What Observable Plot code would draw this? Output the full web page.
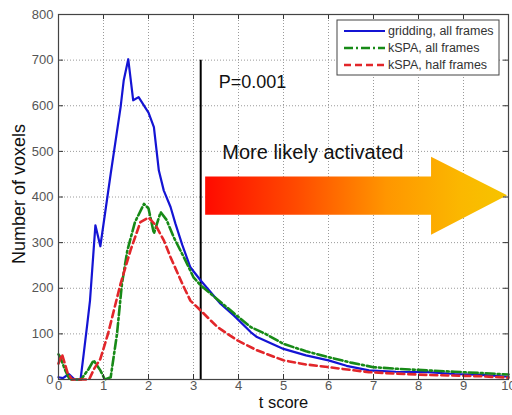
<!DOCTYPE html>
<html>
<head>
<meta charset="utf-8">
<script src="https://cdn.jsdelivr.net/npm/d3@7"></script>
<script src="https://cdn.jsdelivr.net/npm/@observablehq/plot@0.6"></script>
<style>
  html, body { margin: 0; padding: 0; background: #fff; }
  #chart svg { display: block; }
</style>
</head>
<body>
<div id="chart"></div>
<script>
// ---- tick labels ----
const xTicks = [0, 1, 2, 3, 4, 5, 6, 7, 8, 9, 10];
const yTicks = [0, 100, 200, 300, 400, 500, 600, 700, 800];

// ---- series: gridding, all frames ----
const tGrid   = [0, 0.1, 0.23, 0.36, 0.49, 0.56, 0.64, 0.7, 0.82, 0.93, 1.16, 1.38, 1.45, 1.55, 1.66, 1.78, 2.0, 2.12, 2.23, 2.34, 2.49, 2.6, 2.75, 2.93, 3.16, 3.6, 3.9, 4.27, 4.41, 5.0, 5.5, 6.0, 6.4, 6.9, 7.5, 8.2, 8.8, 9.4, 10];
const gridAll = [5, 3, 12, 0, 0, 56, 122, 173, 338, 292, 451, 597, 656, 702, 612, 619, 585, 553, 458, 414, 378, 341, 295, 246, 217, 166, 140, 104, 93, 67, 53, 42, 30, 20, 17, 16, 12, 10, 6];

// ---- series: kSPA, all frames ----
const tKspaAll = [0, 0.04, 0.15, 0.25, 0.5, 0.67, 0.78, 0.93, 1.03, 1.16, 1.3, 1.41, 1.53, 1.7, 1.9, 2.0, 2.12, 2.27, 2.4, 2.56, 2.82, 3.0, 3.16, 3.6, 3.9, 4.27, 4.6, 5.0, 5.5, 6.0, 6.5, 7.0, 7.6, 8.2, 8.8, 9.4, 10];
const kspaAll  = [55, 49, 20, 0, 0, 23, 42, 20, 0, 5, 100, 210, 283, 345, 385, 375, 320, 367, 350, 312, 261, 224, 206, 170, 145, 115, 100, 78, 62, 49, 37, 27, 23, 20, 17, 14, 11];

// ---- series: kSPA, half frames ----
const tKspaHalf = [0, 0.08, 0.2, 0.3, 0.68, 0.8, 0.93, 1.1, 1.38, 1.6, 1.82, 2.0, 2.16, 2.34, 2.49, 2.75, 2.93, 3.12, 3.53, 3.97, 4.41, 5.0, 5.5, 6.0, 6.9, 7.5, 8.2, 9.4, 10];
const kspaHalf  = [35, 55, 15, 0, 0, 25, 45, 100, 210, 283, 345, 355, 338, 305, 268, 210, 173, 155, 115, 86, 64, 42, 33, 27, 16, 13, 10, 7, 4];

const seriesNames = ["gridding, all frames", "kSPA, all frames", "kSPA, half frames"];
const seriesColors = ["#1414d4", "#178a17", "#e2262a"];
const seriesDash = [null, "9,3,2,3", "7,4"];

// ---- annotations ----
const pThreshold = 3.16;      // t score of P=0.001
const pLineTop = 700;
const pLabel = "P=0.001";
const pLabelPos = {t: 3.56, v: 652};
const arrowLabel = "More likely activated";
const arrowLabelPos = {t: 3.64, v: 497};
// arrow outline (t score, lower / upper voxel count)
const arrowT  = [3.27, 8.29, 8.29, 9.98];
const arrowLo = [360, 360, 316, 403];
const arrowHi = [444, 444, 487, 403];

// ---- build tables ----
const seriesT = [tGrid, tKspaAll, tKspaHalf];
const seriesV = [gridAll, kspaAll, kspaHalf];
const lines = seriesNames.map((name, k) => seriesT[k].map((t, i) => ({name, t, v: seriesV[k][i]})));
const arrowPts = arrowT.map((t, i) => ({t, lo: arrowLo[i], hi: arrowHi[i]}));

const W = 512, H = 415, mL = 58, mR = 4, mT = 14, mB = 36;
const fw = W - mL - mR, fh = H - mT - mB;
const font = "'Liberation Sans', Arial, Helvetica, sans-serif";

const svg = Plot.plot({
  width: W, height: H,
  marginLeft: mL, marginRight: mR, marginTop: mT, marginBottom: mB,
  style: {fontFamily: font, background: "#fff", color: "#000", overflow: "visible"},
  x: {domain: [0, 10]},
  y: {domain: [0, 800]},
  marks: [
    Plot.gridX(xTicks, {stroke: "#9a9a9a", strokeOpacity: 1, strokeDasharray: "1,2"}),
    Plot.gridY(yTicks, {stroke: "#9a9a9a", strokeOpacity: 1, strokeDasharray: "1,2"}),
    Plot.area(arrowPts, {x1: "t", y1: "lo", y2: "hi", fill: "#ff8000", curve: "linear"}),
    Plot.text([arrowLabel], {x: arrowLabelPos.t, y: arrowLabelPos.v, text: d => d, textAnchor: "start", fontSize: 20, fill: "#111"}),
    Plot.text([pLabel], {x: pLabelPos.t, y: pLabelPos.v, text: d => d, textAnchor: "start", fontSize: 18, fill: "#111"}),
    Plot.ruleX([pThreshold], {x: d => d, y1: 0, y2: pLineTop, stroke: "#000", strokeWidth: 2}),
    ...lines.map((rows, k) => Plot.line(rows, {
      x: "t", y: "v",
      stroke: seriesColors[k],
      strokeWidth: k === 0 ? 2.2 : 2.6,
      strokeDasharray: seriesDash[k] || undefined,
      curve: "linear"
    })),
    // MATLAB style inner ticks on all sides
    Plot.tickX(xTicks, {x: d => d, insetTop: fh - 5, stroke: "#333"}),
    Plot.tickX(xTicks, {x: d => d, insetBottom: fh - 5, stroke: "#333"}),
    Plot.tickY(yTicks, {y: d => d, insetRight: fw - 5, stroke: "#333"}),
    Plot.tickY(yTicks, {y: d => d, insetLeft: fw - 5, stroke: "#333"}),
    Plot.frame({stroke: "#444", strokeWidth: 1.2}),
    Plot.axisX(xTicks, {tickSize: 0, tickPadding: 1, fontSize: 13, fill: "#555", label: null}),
    Plot.axisY(yTicks, {tickSize: 0, tickPadding: 5, fontSize: 13, fill: "#555", label: null}),
    Plot.text(["t score"], {frameAnchor: "bottom", dy: 28, fontSize: 16.5, fill: "#111", text: d => d}),
    Plot.text(["Number of voxels"], {frameAnchor: "left", dx: -39, dy: -3, textAnchor: "middle", rotate: -90, fontSize: 18, fill: "#111", text: d => d})
  ]
});

// gradient fill for the arrow
const s = d3.select(svg);
const defs = s.insert("defs", ":first-child");
const grad = defs.append("linearGradient").attr("id", "arrowGrad").attr("x1", "0").attr("x2", "1").attr("y1", "0").attr("y2", "0");
[["0%", "#ff0a00"], ["30%", "#ff4a00"], ["60%", "#ff9600"], ["85%", "#fbb800"], ["100%", "#f6c400"]]
  .forEach(([o, c]) => grad.append("stop").attr("offset", o).attr("stop-color", c));
s.selectAll('g[aria-label="area"] path').attr("fill", "url(#arrowGrad)");

// legend box (upper right, inside the frame)
const lg = s.append("g").attr("font-family", font).attr("font-size", 12.5).attr("text-anchor", "start");
lg.append("rect").attr("x", 337).attr("y", 20).attr("width", 162).attr("height", 55)
  .attr("fill", "#fff").attr("stroke", "#444").attr("stroke-width", 1);
seriesNames.forEach((name, k) => {
  const cy = 31 + k * 17;
  lg.append("line").attr("x1", 344).attr("x2", 385).attr("y1", cy).attr("y2", cy)
    .attr("stroke", seriesColors[k]).attr("stroke-width", k === 0 ? 2.2 : 2.4)
    .attr("stroke-dasharray", seriesDash[k] || null);
  lg.append("text").attr("x", 388).attr("y", cy).attr("dy", "0.35em")
    .attr("text-anchor", "start").attr("fill", "#333").text(name);
});

document.getElementById("chart").appendChild(svg);
</script>
</body>
</html>
